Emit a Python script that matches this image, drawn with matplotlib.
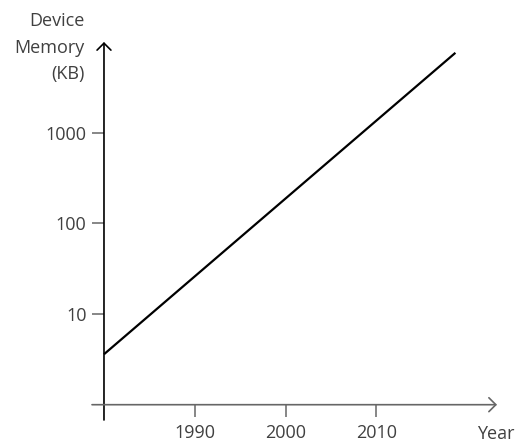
import matplotlib
matplotlib.use("Agg")
import matplotlib.pyplot as plt
from matplotlib.ticker import NullLocator, FixedLocator, FixedFormatter

# data
years = [1980, 2018.7]
memory_kb = [3.6, 7600]

y_ticks = [10, 100, 1000]
y_tick_labels = ["10", "100", "1000"]
x_ticks = [1990, 2000, 2010]
x_tick_labels = ["1990", "2000", "2010"]

W, H = 527, 444
text_color = "#404040"
grey = "#666666"
fs = 13

plt.rcParams['font.family'] = ['Open Sans', 'DejaVu Sans']

fig = plt.figure(figsize=(W / 100, H / 100), dpi=100)
ax = fig.add_axes([92 / W, 1 - 420 / H, (497 - 92) / W, (420 - 42) / H])
ax.set_yscale('log')
ax.set_xlim(1978.68, 2023.28)
ax.set_ylim(0.678, 10000)

for s in ax.spines.values():
    s.set_visible(False)
ax.spines['left'].set_position(('data', 1980))
ax.spines['bottom'].set_position(('data', 1))

ax.yaxis.set_major_locator(FixedLocator(y_ticks))
ax.yaxis.set_major_formatter(FixedFormatter(y_tick_labels))
ax.yaxis.set_minor_locator(NullLocator())
ax.set_xticks(x_ticks)
ax.set_xticklabels(x_tick_labels)

ax.tick_params(axis='both', direction='out', length=8.6, width=1.1,
               color=grey, labelcolor=text_color, labelsize=fs)
ax.tick_params(axis='y', pad=4)
ax.tick_params(axis='x', pad=5.5)

# axis arrows
ax.annotate('', xy=(1980, 10000), xytext=(1980, 0.678),
            arrowprops=dict(arrowstyle='->,head_length=0.5,head_width=0.5',
                            lw=1.2, color='black', shrinkA=0, shrinkB=0))
ax.annotate('', xy=(2023.28, 1), xytext=(1978.68, 1),
            arrowprops=dict(arrowstyle='->,head_length=0.5,head_width=0.5',
                            lw=1.2, color=grey, shrinkA=0, shrinkB=0))

ax.plot(years, memory_kb, color='black', lw=1.6, solid_capstyle='butt')

fig.text(85 / W, 1 - 21 / H, "Device", ha='right', va='center',
         fontsize=fs, color=text_color)
fig.text(85 / W, 1 - 48 / H, "Memory", ha='right', va='center',
         fontsize=fs, color=text_color)
fig.text(85 / W, 1 - 74 / H, "(KB)", ha='right', va='center',
         fontsize=fs, color=text_color)
fig.text(477 / W, 1 - 434 / H, "Year", ha='left', va='center',
         fontsize=fs, color=text_color)

fig.savefig("out.png", dpi=100)
